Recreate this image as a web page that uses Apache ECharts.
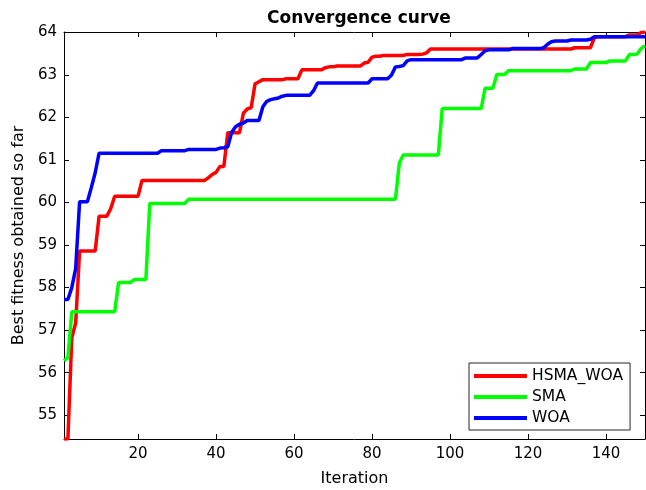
<!DOCTYPE html>
<html>
<head>
<meta charset="utf-8">
<script src="https://cdn.jsdelivr.net/npm/echarts@6/dist/echarts.min.js"></script>
<style>
  html, body { margin: 0; padding: 0; background: #fff; }
  #chart { width: 646px; height: 490px; }
</style>
</head>
<body>
<div id="chart"></div>
<script>
// Best fitness per iteration (1..150) for each optimiser
const seriesNames = ['HSMA_WOA', 'SMA', 'WOA'];

const hsmaWoa = [
  54.44, 54.44, 56.82, 57.17, 58.86, 58.86, 58.86, 58.86, 58.86, 59.68,
  59.68, 59.68, 59.86, 60.15, 60.15, 60.15, 60.15, 60.15, 60.15, 60.15,
  60.52, 60.52, 60.52, 60.52, 60.52, 60.52, 60.52, 60.52, 60.52, 60.52,
  60.52, 60.52, 60.52, 60.52, 60.52, 60.52, 60.52, 60.58, 60.66, 60.71,
  60.85, 60.85, 61.64, 61.64, 61.64, 61.64, 62.10, 62.20, 62.23, 62.79,
  62.84, 62.89, 62.89, 62.89, 62.89, 62.89, 62.89, 62.91, 62.91, 62.91,
  62.91, 63.12, 63.12, 63.12, 63.12, 63.12, 63.12, 63.17, 63.19, 63.19,
  63.21, 63.21, 63.21, 63.21, 63.21, 63.21, 63.21, 63.28, 63.30, 63.42,
  63.44, 63.44, 63.46, 63.46, 63.46, 63.46, 63.46, 63.46, 63.48, 63.48,
  63.48, 63.48, 63.49, 63.52, 63.61, 63.61, 63.61, 63.61, 63.61, 63.61,
  63.61, 63.61, 63.61, 63.61, 63.61, 63.61, 63.61, 63.61, 63.61, 63.61,
  63.61, 63.61, 63.61, 63.61, 63.61, 63.61, 63.61, 63.61, 63.61, 63.61,
  63.61, 63.61, 63.61, 63.61, 63.61, 63.61, 63.61, 63.61, 63.61, 63.61,
  63.61, 63.64, 63.64, 63.64, 63.64, 63.64, 63.87, 63.90, 63.90, 63.90,
  63.90, 63.90, 63.90, 63.90, 63.90, 63.94, 63.94, 63.94, 64.00, 64.01
];

const sma = [
  56.28, 56.36, 57.43, 57.43, 57.43, 57.43, 57.43, 57.43, 57.43, 57.43,
  57.43, 57.43, 57.43, 57.43, 58.12, 58.12, 58.12, 58.12, 58.19, 58.19,
  58.19, 58.19, 59.98, 59.98, 59.98, 59.98, 59.98, 59.98, 59.98, 59.98,
  59.98, 59.98, 60.08, 60.08, 60.08, 60.08, 60.08, 60.08, 60.08, 60.08,
  60.08, 60.08, 60.08, 60.08, 60.08, 60.08, 60.08, 60.08, 60.08, 60.08,
  60.08, 60.08, 60.08, 60.08, 60.08, 60.08, 60.08, 60.08, 60.08, 60.08,
  60.08, 60.08, 60.08, 60.08, 60.08, 60.08, 60.08, 60.08, 60.08, 60.08,
  60.08, 60.08, 60.08, 60.08, 60.08, 60.08, 60.08, 60.08, 60.08, 60.08,
  60.08, 60.08, 60.08, 60.08, 60.08, 60.08, 60.93, 61.12, 61.12, 61.12,
  61.12, 61.12, 61.12, 61.12, 61.12, 61.12, 61.12, 62.21, 62.21, 62.21,
  62.21, 62.21, 62.21, 62.21, 62.21, 62.21, 62.21, 62.21, 62.69, 62.69,
  62.69, 63.01, 63.01, 63.01, 63.10, 63.10, 63.10, 63.10, 63.10, 63.10,
  63.10, 63.10, 63.10, 63.10, 63.10, 63.10, 63.10, 63.10, 63.10, 63.10,
  63.10, 63.14, 63.14, 63.14, 63.14, 63.29, 63.29, 63.29, 63.29, 63.29,
  63.33, 63.33, 63.33, 63.33, 63.33, 63.48, 63.48, 63.49, 63.62, 63.69
];

const woa = [
  57.72, 57.72, 58.00, 58.45, 60.02, 60.02, 60.02, 60.35, 60.70, 61.16,
  61.16, 61.16, 61.16, 61.16, 61.16, 61.16, 61.16, 61.16, 61.16, 61.16,
  61.16, 61.16, 61.16, 61.16, 61.16, 61.22, 61.22, 61.22, 61.22, 61.22,
  61.22, 61.22, 61.25, 61.25, 61.25, 61.25, 61.25, 61.25, 61.25, 61.25,
  61.28, 61.29, 61.31, 61.65, 61.78, 61.84, 61.87, 61.93, 61.93, 61.93,
  61.93, 62.25, 62.38, 62.42, 62.44, 62.46, 62.50, 62.52, 62.52, 62.52,
  62.52, 62.52, 62.52, 62.52, 62.63, 62.81, 62.81, 62.81, 62.81, 62.81,
  62.81, 62.81, 62.81, 62.81, 62.81, 62.81, 62.81, 62.81, 62.81, 62.91,
  62.91, 62.91, 62.91, 62.91, 63.00, 63.19, 63.20, 63.22, 63.33, 63.36,
  63.36, 63.36, 63.36, 63.36, 63.36, 63.36, 63.36, 63.36, 63.36, 63.36,
  63.36, 63.36, 63.36, 63.40, 63.40, 63.40, 63.40, 63.48, 63.57, 63.59,
  63.59, 63.59, 63.59, 63.59, 63.59, 63.62, 63.62, 63.62, 63.62, 63.62,
  63.62, 63.62, 63.62, 63.64, 63.72, 63.78, 63.80, 63.80, 63.80, 63.80,
  63.82, 63.82, 63.82, 63.82, 63.82, 63.84, 63.90, 63.90, 63.90, 63.90,
  63.90, 63.90, 63.90, 63.90, 63.90, 63.90, 63.90, 63.90, 63.90, 63.90
];

const seriesValues = [hsmaWoa, sma, woa];
const seriesColors = ['#ff0000', '#00ff00', '#0000ff'];

// Axis limits fit tightly around the data
const xMin = 1, xMax = 150;
const yMin = 54.44, yMax = 64.01;

const FONT = 'DejaVu Sans';

const toPairs = vals => vals.map((v, i) => [i + 1, v]);

const boxAxisLine = { show: true, lineStyle: { color: '#000', width: 1 } };
const boxTick = { show: true, inside: true, length: 5, lineStyle: { color: '#000', width: 1 } };

const chart = echarts.init(document.getElementById('chart'), null, { renderer: 'canvas' });

chart.setOption({
  animation: false,
  backgroundColor: '#fff',
  title: {
    text: 'Convergence curve',
    left: 354,
    top: 5,
    textAlign: 'center',
    textStyle: { fontFamily: FONT, fontWeight: 'bold', fontSize: 17, color: '#000' }
  },
  grid: {
    left: 64, right: 1, top: 32, bottom: 51,
    containLabel: false,
    outerBoundsMode: 'none'
  },
  legend: {
    orient: 'vertical',
    left: 469,
    top: 363,
    data: seriesNames,
    icon: 'rect',
    itemWidth: 53,
    itemHeight: 4,
    itemGap: 5,
    padding: [5, 7, 4, 5],
    backgroundColor: '#fff',
    borderColor: '#262626',
    borderWidth: 1,
    borderRadius: 0,
    textStyle: { fontFamily: FONT, fontSize: 15.5, color: '#000', padding: [0, 0, 0, 0] }
  },
  xAxis: [
    {
      type: 'value',
      min: xMin, max: xMax,
      splitNumber: 7,
      name: 'Iteration',
      nameLocation: 'middle',
      nameGap: 32,
      nameTextStyle: { fontFamily: FONT, fontSize: 16, color: '#000' },
      axisLine: boxAxisLine,
      axisTick: boxTick,
      splitLine: { show: false },
      axisLabel: {
        fontFamily: FONT, fontSize: 15, color: '#000', margin: 8,
        showMinLabel: false, showMaxLabel: false
      }
    },
    {
      type: 'value',
      position: 'top',
      min: xMin, max: xMax,
      splitNumber: 7,
      axisLine: boxAxisLine,
      axisTick: boxTick,
      splitLine: { show: false },
      axisLabel: { show: false }
    }
  ],
  yAxis: [
    {
      type: 'value',
      min: yMin, max: yMax,
      splitNumber: 9,
      name: 'Best fitness obtained so far',
      nameLocation: 'middle',
      nameGap: 37,
      nameTextStyle: { fontFamily: FONT, fontSize: 16, color: '#000' },
      axisLine: boxAxisLine,
      axisTick: boxTick,
      splitLine: { show: false },
      axisLabel: {
        fontFamily: FONT, fontSize: 15, color: '#000', margin: 7,
        showMinLabel: false, showMaxLabel: false
      }
    },
    {
      type: 'value',
      position: 'right',
      min: yMin, max: yMax,
      splitNumber: 9,
      axisLine: boxAxisLine,
      axisTick: boxTick,
      splitLine: { show: false },
      axisLabel: { show: false }
    }
  ],
  series: seriesNames.map((name, k) => ({
    name: name,
    type: 'line',
    xAxisIndex: 0,
    yAxisIndex: 0,
    data: toPairs(seriesValues[k]),
    showSymbol: false,
    symbol: 'none',
    clip: true,
    lineStyle: { color: seriesColors[k], width: 3.5 },
    itemStyle: { color: seriesColors[k] },
    emphasis: { disabled: true }
  }))
});
</script>
</body>
</html>
